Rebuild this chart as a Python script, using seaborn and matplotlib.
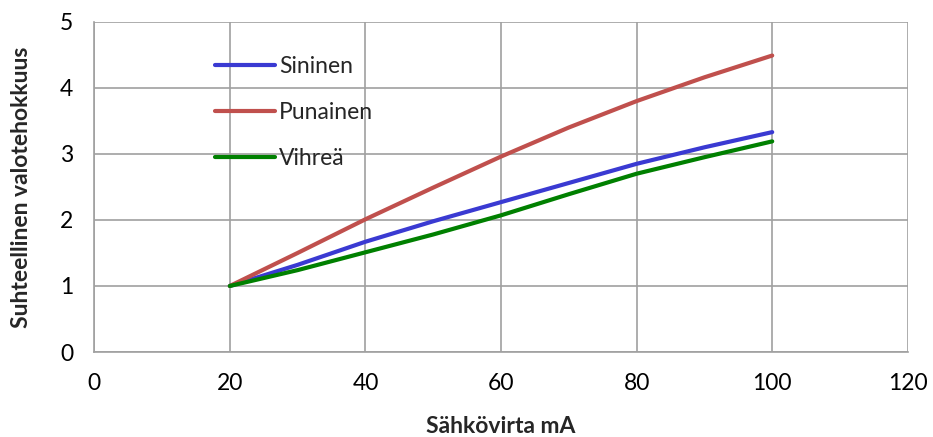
import numpy as np
import pandas as pd
import matplotlib
matplotlib.use("Agg")
import matplotlib.pyplot as plt
import seaborn as sns

current_ma = [20, 30, 40, 50, 60, 70, 80, 90, 100]
sininen = [1.0, 1.32, 1.67, 1.98, 2.27, 2.56, 2.85, 3.10, 3.33]
punainen = [1.0, 1.50, 2.01, 2.49, 2.96, 3.40, 3.80, 4.16, 4.49]
vihrea = [1.0, 1.24, 1.51, 1.78, 2.07, 2.39, 2.70, 2.95, 3.19]
series_names = ["Sininen", "Punainen", "Vihreä"]
colors = ["#3a3ad2", "#c0504d", "#008000"]
x_ticks = [0, 20, 40, 60, 80, 100, 120]
y_ticks = [0, 1, 2, 3, 4, 5]

df = pd.DataFrame({
    "x": current_ma * 3,
    "y": sininen + punainen + vihrea,
    "series": sum([[n] * len(current_ma) for n in series_names], []),
})

sns.set_style("white")
plt.rcParams["font.family"] = ["Lato", "DejaVu Sans"]

fig = plt.figure(figsize=(9.33, 4.37), dpi=100)
ax = fig.add_axes([0.101, 0.1945, 0.872, 0.7555])
sns.lineplot(data=df, x="x", y="y", hue="series", hue_order=series_names,
             palette=colors, linewidth=3.0, ax=ax, sort=True)
for line in ax.get_lines():
    line.set_solid_joinstyle("round")
    line.set_solid_capstyle("round")

ax.set_xlim(0, 120)
ax.set_ylim(0, 5)
ax.set_xticks(x_ticks)
ax.set_yticks(y_ticks)
ax.grid(True, color="#a0a0a0", linewidth=1.2)
ax.set_axisbelow(True)
for s in ["top", "right"]:
    ax.spines[s].set_visible(False)
for s in ["left", "bottom"]:
    ax.spines[s].set_color("#a0a0a0")
    ax.spines[s].set_linewidth(1.2)
ax.tick_params(axis="both", which="major", direction="out", length=6,
               color="#a0a0a0", width=1.2, labelsize=16.5, colors="#a0a0a0",
               labelcolor="black", pad=9)
ax.set_xlabel("Sähkövirta mA", fontsize=16.5, fontweight="bold", labelpad=16)
ax.set_ylabel("Suhteellinen valotehokkuus", fontsize=16.5, fontweight="bold", labelpad=20)

leg = ax.legend(loc="upper left", bbox_to_anchor=(0.123, 0.96), frameon=False,
                fontsize=16.5, handlelength=2.6, handletextpad=0.2, labelspacing=1.1)
for line in leg.get_lines():
    line.set_linewidth(3.0)

fig.savefig("out.png", dpi=100)
